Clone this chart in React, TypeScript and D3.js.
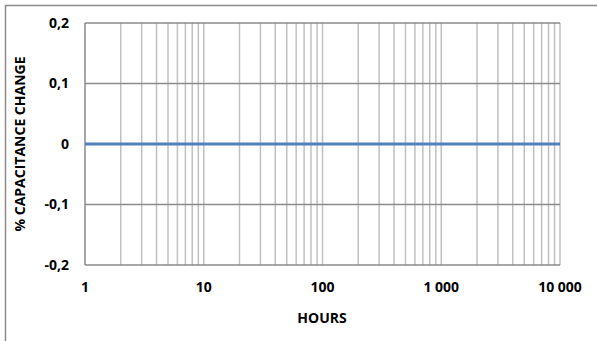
import React, { useRef, useEffect } from 'react';
import * as d3 from 'd3';

// series: capacitance change stays flat at 0 over the full range
const hours = [1, 10, 100, 1000, 10000];
const capChange = [0, 0, 0, 0, 0];
const yTicks = [-0.2, -0.1, 0, 0.1, 0.2];
const yTickLabels = ['-0,2', '-0,1', '0', '0,1', '0,2'];
const xTickLabels = ['1', '10', '100', '1 000', '10 000'];

const App = () => {
  const ref = useRef<SVGSVGElement>(null);

  useEffect(() => {
    if (!ref.current) return;
    const svg = d3.select(ref.current);
    svg.selectAll('*').remove();

    const font = "'Open Sans', sans-serif";
    const x = d3.scaleLog().domain([1, 10000]).range([85, 560]);
    const y = d3.scaleLinear().domain([-0.2, 0.2]).range([265, 23]);

    // outer chart border (cropped on the right/bottom)
    svg.append('rect')
      .attr('x', 5.5).attr('y', 5.5)
      .attr('width', 700).attr('height', 400)
      .attr('fill', 'white')
      .attr('stroke', '#8c8c8c')
      .attr('stroke-width', 1.5);

    // vertical gridlines (minor + major)
    const vLines: number[] = [];
    for (let d = 1; d < 10000; d *= 10) {
      for (let m = 2; m <= 10; m++) vLines.push(d * m);
    }
    svg.append('g')
      .selectAll('line')
      .data(vLines)
      .join('line')
      .attr('x1', d => x(d)).attr('x2', d => x(d))
      .attr('y1', y(0.2)).attr('y2', y(-0.2))
      .attr('stroke', '#c0c0c0')
      .attr('stroke-width', 1.5);

    // horizontal gridlines
    svg.append('g')
      .selectAll('line')
      .data(yTicks.filter(v => v > -0.2))
      .join('line')
      .attr('x1', x(1)).attr('x2', x(10000))
      .attr('y1', d => y(d)).attr('y2', d => y(d))
      .attr('stroke', '#8a8a8a')
      .attr('stroke-width', 1.5);

    // axes lines
    svg.append('line')
      .attr('x1', x(1)).attr('x2', x(1))
      .attr('y1', y(0.2)).attr('y2', y(-0.2))
      .attr('stroke', '#8a8a8a').attr('stroke-width', 1.5);
    svg.append('line')
      .attr('x1', x(1)).attr('x2', x(10000))
      .attr('y1', y(-0.2)).attr('y2', y(-0.2))
      .attr('stroke', '#8a8a8a').attr('stroke-width', 1.5);

    // data line
    const line = d3.line<number>()
      .x((_, i) => x(hours[i]))
      .y(d => y(d));
    svg.append('path')
      .datum(capChange)
      .attr('fill', 'none')
      .attr('stroke', '#4f81bd')
      .attr('stroke-width', 3)
      .attr('d', line);

    // y tick labels
    svg.append('g')
      .selectAll('text')
      .data(yTicks)
      .join('text')
      .attr('x', 69)
      .attr('y', d => y(d))
      .attr('dy', '0.35em')
      .attr('text-anchor', 'end')
      .attr('font-family', font)
      .attr('font-weight', 'bold')
      .attr('font-size', 14)
      .attr('fill', '#000')
      .text((_, i) => yTickLabels[i]);

    // x tick labels
    svg.append('g')
      .selectAll('text')
      .data(hours)
      .join('text')
      .attr('x', d => x(d))
      .attr('y', 287)
      .attr('dy', '0.35em')
      .attr('text-anchor', 'middle')
      .attr('font-family', font)
      .attr('font-weight', 'bold')
      .attr('font-size', 14)
      .attr('fill', '#000')
      .text((_, i) => xTickLabels[i]);

    // axis titles
    svg.append('text')
      .attr('x', 322).attr('y', 318)
      .attr('dy', '0.35em')
      .attr('text-anchor', 'middle')
      .attr('font-family', font)
      .attr('font-weight', 'bold')
      .attr('font-size', 14)
      .text('HOURS');
    svg.append('text')
      .attr('transform', 'translate(20,144) rotate(-90)')
      .attr('dy', '0.35em')
      .attr('text-anchor', 'middle')
      .attr('font-family', font)
      .attr('font-weight', 'bold')
      .attr('font-size', 14)
      .text('% CAPACITANCE CHANGE');
  }, []);

  return (
    <svg
      ref={ref}
      width={597}
      height={341}
      style={{ position: 'absolute', left: 0, top: 0, background: '#fff' }}
    />
  );
};

export default App;
